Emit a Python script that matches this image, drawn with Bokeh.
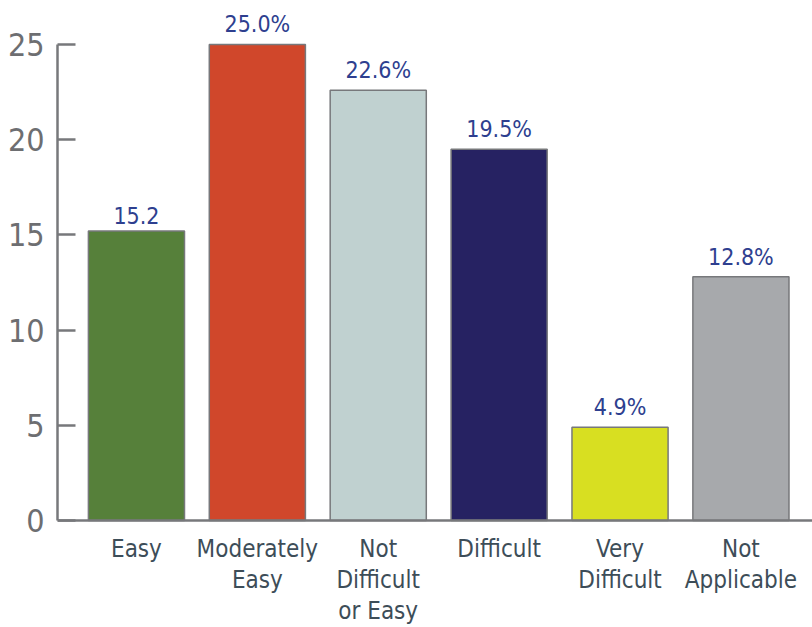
from bokeh.plotting import figure
from bokeh.models import ColumnDataSource, FixedTicker, Range1d, Span
from bokeh.embed import file_html
from bokeh.resources import INLINE
from bokeh.core.properties import value

categories = ["Easy", "Moderately\nEasy", "Not\nDifficult\nor Easy", "Difficult", "Very\nDifficult", "Not\nApplicable"]
values = [15.2, 25.0, 22.6, 19.5, 4.9, 12.8]
value_labels = ["15.2", "25.0%", "22.6%", "19.5%", "4.9%", "12.8%"]
colors = ["#56803a", "#d0472b", "#c0d1d0", "#262262", "#d8df21", "#a7a9ac"]
y_ticks = [0, 5, 10, 15, 20, 25]

FONT = "Liberation Sans Narrow, DejaVu Sans Condensed, sans-serif"

xs = list(range(len(categories)))
base = [0] * len(categories)
src = ColumnDataSource(dict(x=xs, top=values, base=base, label=value_labels,
                            cat=categories, color=colors))

p = figure(width=812, height=627, output_backend="svg", toolbar_location=None,
           x_range=Range1d(-0.653, 5.592), y_range=Range1d(-5.62, 27.1),
           min_border_left=57, min_border_right=0, min_border_top=4, min_border_bottom=0)
p.outline_line_color = None
p.grid.visible = False
p.background_fill_color = "white"
p.xaxis.visible = False

p.vbar(x="x", top="top", width=0.795, bottom="base", fill_color="color",
       line_color="#77787b", line_width=1.5, source=src)

# x axis line at zero
p.add_layout(Span(location=0, dimension="width", line_color="#77787b", line_width=2.5))

# value labels
p.text(x="x", y="top", text="label", source=src, text_align="center",
       text_baseline="bottom", y_offset=-7, text_color="#2e3f8f",
       text_font=value(FONT), text_font_size="23px")

# category labels
p.text(x="x", y="base", text="cat", source=src, text_align="center",
       text_baseline="top", y_offset=15, text_color="#3d4d58",
       text_font=value(FONT), text_font_size="24px", text_line_height=1.1)

# y axis
ya = p.yaxis[0]
ya.ticker = FixedTicker(ticks=y_ticks)
ya.bounds = (0, 25)
ya.axis_line_color = "#77787b"
ya.axis_line_width = 2.5
ya.major_tick_line_color = "#77787b"
ya.major_tick_line_width = 2.5
ya.major_tick_in = 18
ya.major_tick_out = 0
ya.minor_tick_line_color = None
ya.major_label_text_font = FONT
ya.major_label_text_font_size = "32px"
ya.major_label_text_color = "#6d6e71"
ya.major_label_standoff = 13

open("out.html", "w").write(file_html(p, INLINE))
